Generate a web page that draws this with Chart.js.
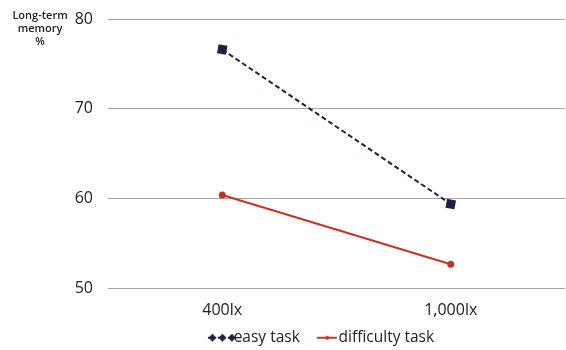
<!DOCTYPE html>
<html lang="en">
<head>
    <meta charset="UTF-8">
    <title>Long-term memory</title>
    <script src="https://cdn.jsdelivr.net/npm/chart.js"></script>
    <style>
        body { margin: 0; background: #fff; }
        #wrap { position: relative; width: 566px; height: 350px; }
        #ytitle {
            position: absolute; left: 0; top: 8px; width: 80px;
            text-align: center; font: 600 11px/13px "Open Sans", sans-serif; color: #222;
        }
    </style>
</head>
<body>
    <div id="wrap">
        <canvas id="chart" width="566" height="350"></canvas>
        <div id="ytitle">Long-term<br>memory<br>%</div>
    </div>

    <script>
        // data
        var categories = ['400lx', '1,000lx'];
        var easyTask = [76.6, 59.4];
        var difficultyTask = [60.4, 52.7];
        var yTicks = [50, 60, 70, 80];

        var navy = '#1c2142';
        var red = '#c23328';

        // legend icons: line with markers, sitting just left of the text
        function icon(kind) {
            var c = document.createElement('canvas');
            c.width = 50; c.height = 12;
            var g = c.getContext('2d');
            if (kind === 'easy') {
                g.strokeStyle = navy; g.lineWidth = 2; g.setLineDash([3, 2]);
                g.beginPath(); g.moveTo(22, 6); g.lineTo(47, 6); g.stroke();
                g.fillStyle = navy;
                [26.5, 36.5, 46].forEach(function(x) {
                    g.beginPath();
                    g.moveTo(x, 2); g.lineTo(x + 4, 6); g.lineTo(x, 10); g.lineTo(x - 4, 6);
                    g.closePath(); g.fill();
                });
            } else {
                g.strokeStyle = red; g.lineWidth = 2;
                g.beginPath(); g.moveTo(26, 6); g.lineTo(46, 6); g.stroke();
                g.fillStyle = red;
                g.beginPath(); g.arc(36.5, 6, 2, 0, Math.PI * 2); g.fill();
            }
            return c;
        }

        // no automatic label overflow padding, the layout padding decides
        function noPad(s) {
            s.paddingTop = 0; s.paddingBottom = 0;
            s.paddingLeft = 0; s.paddingRight = 0;
        }

        var ctx = document.getElementById('chart').getContext('2d');
        var chart = new Chart(ctx, {
            type: 'line',
            data: {
                labels: categories,
                datasets: [
                    {
                        label: 'easy task',
                        data: easyTask,
                        borderColor: navy,
                        backgroundColor: navy,
                        borderWidth: 2,
                        borderDash: [5, 3],
                        pointStyle: 'rect',
                        pointRadius: 5,
                        pointRotation: 10,
                        fill: false
                    },
                    {
                        label: 'difficulty task',
                        data: difficultyTask,
                        borderColor: red,
                        backgroundColor: red,
                        borderWidth: 2,
                        pointStyle: 'circle',
                        pointRadius: 2.5,
                        fill: false
                    }
                ]
            },
            options: {
                responsive: false,
                animation: false,
                layout: { autoPadding: false, padding: { top: 19, right: 1, left: 65, bottom: -5.5 } },
                plugins: {
                    tooltip: { enabled: false },
                    legend: {
                        position: 'bottom',
                        labels: {
                            usePointStyle: true,
                            pointStyleWidth: 30,
                            padding: 1,
                            color: '#222',
                            font: { family: 'Open Sans', size: 15.5 },
                            generateLabels: function(ch) {
                                return ch.data.datasets.map(function(ds, i) {
                                    return {
                                        text: ds.label,
                                        pointStyle: icon(i === 0 ? 'easy' : 'diff'),
                                        fillStyle: ds.borderColor,
                                        strokeStyle: ds.borderColor,
                                        lineWidth: 0,
                                        fontColor: '#222',
                                        datasetIndex: i
                                    };
                                });
                            }
                        }
                    }
                },
                scales: {
                    x: {
                        offset: true,
                        afterFit: function(s) { s.height = 40.5; noPad(s); },
                        grid: { display: false, drawTicks: false },
                        border: { display: false },
                        ticks: { color: '#222', padding: 12, font: { family: 'Open Sans', size: 16 } }
                    },
                    y: {
                        min: 50,
                        max: 80,
                        afterFit: function(s) { s.width = 43; noPad(s); },
                        afterBuildTicks: function(s) {
                            s.ticks = yTicks.map(function(v) { return { value: v }; });
                        },
                        grid: { color: '#a6a6a6', drawTicks: false },
                        border: { display: false },
                        ticks: { color: '#222', padding: 15, font: { family: 'Open Sans', size: 16 } }
                    }
                }
            }
        });
    </script>
</body>
</html>
